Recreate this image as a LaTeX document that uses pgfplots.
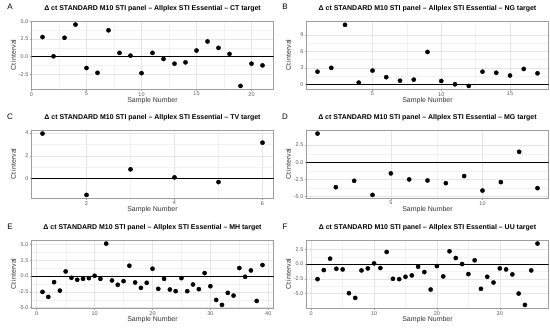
\documentclass[border=0pt]{standalone}
\usepackage{fontspec}
\setmainfont{Liberation Sans}
\usepackage{pgfplots}
\pgfplotsset{compat=1.18}
\definecolor{framegray}{gray}{0.62}
\definecolor{gridmaj}{gray}{0.90}
\definecolor{gridmin}{gray}{0.95}
\definecolor{ticktext}{gray}{0.35}
\pgfplotsset{
  panel/.style={
    scale only axis, width=242bp, height=67.5bp, anchor=south west,
    axis line style={framegray, line width=0.5bp},
    tick style={framegray, line width=0.5bp},
    major tick length=2bp, minor tick length=0pt,
    tick align=outside, xtick pos=lower, ytick pos=left,
    grid=both, minor tick num=1,
    major grid style={gridmaj, line width=0.5bp},
    minor grid style={gridmin, line width=0.3bp},
    ticklabel style={font=\fontsize{5.5}{6}\selectfont, text=ticktext, inner sep=1bp},
    xlabel={Sample Number}, ylabel={Ct interval},
    xlabel style={font=\fontsize{7}{8}\selectfont, text=black!80, at={(axis description cs:0.5,0)}, anchor=center, yshift=-12bp},
    ylabel style={font=\fontsize{7}{8}\selectfont, text=black!80, at={(axis description cs:-0.0745,0.5)}, anchor=center},
    title style={font=\bfseries\fontsize{7}{8}\selectfont, at={(axis description cs:0.5,1)}, anchor=center, yshift=6.5bp},
  },
  pts/.style={only marks, mark=*, mark size=2.1bp, black},
  zl/.style={no marks, black, line width=0.8bp},
}
\begin{document}
\begin{tikzpicture}
\useasboundingbox (0,0) rectangle (550bp,330bp);
\node[font=\fontsize{8}{9}\selectfont] at (10bp,323bp) {A};
\node[font=\fontsize{8}{9}\selectfont] at (285bp,323bp) {B};
\node[font=\fontsize{8}{9}\selectfont] at (10bp,213bp) {C};
\node[font=\fontsize{8}{9}\selectfont] at (285bp,213bp) {D};
\node[font=\fontsize{8}{9}\selectfont] at (10bp,103bp) {E};
\node[font=\fontsize{8}{9}\selectfont] at (285bp,103bp) {F};

% Panel A
\begin{axis}[panel, at={(31.5bp,241bp)},
  title={Δ ct STANDARD M10 STI panel – Allplex STI Essential – CT target},
  xmin=0, xmax=22, ymin=-4.62, ymax=5.01,
  xtick={0,5,10,15,20}, xticklabels={0,5,10,15,20},
  ytick={-2.5,0,2.5,5}, yticklabels={-2.5,0.0,2.5,5.0}]
\addplot[zl] coordinates {(-5,0) (30,0)};
\addplot[pts] coordinates {
(1,2.79) (2,0.05) (3,2.69) (4,4.57) (5,-1.63) (6,-2.31) (7,3.75) (8,0.53)
(9,0.14) (10,-2.36) (11,0.53) (12,-0.34) (13,-1.01) (14,-0.82) (15,0.87)
(16,2.16) (17,1.25) (18,0.38) (19,-4.18) (20,-1.01) (21,-1.25)};
\end{axis}

% Panel B
\begin{axis}[panel, at={(306.5bp,241bp)},
  title={Δ ct STANDARD M10 STI panel – Allplex STI Essential – NG target},
  xmin=0.2, xmax=17.8, ymin=-0.86, ymax=11.46,
  xtick={5,10,15}, xticklabels={5,10,15},
  ytick={0,3,6,9}, yticklabels={0,3,6,9}]
\addplot[zl] coordinates {(-5,0) (30,0)};
\addplot[pts] coordinates {
(1,2.3) (2,3.0) (3,10.85) (4,0.3) (5,2.5) (6,1.3) (7,0.65) (8,0.85)
(9,5.9) (10,0.6) (11,0.0) (12,-0.3) (13,2.3) (14,2.1) (15,1.6) (16,2.8) (17,2.0)};
\end{axis}

% Panel C
\begin{axis}[panel, at={(31.5bp,132bp)},
  title={Δ ct STANDARD M10 STI panel – Allplex STI Essential – TV target},
  xmin=0.75, xmax=6.25, ymin=-1.68, ymax=4.21,
  xtick={2,4,6}, xticklabels={2,4,6},
  ytick={0,2,4}, yticklabels={0,2,4}]
\addplot[zl] coordinates {(-5,0) (30,0)};
\addplot[pts] coordinates {
(1,3.94) (2,-1.41) (3,0.82) (4,0.12) (5,-0.29) (6,3.15)};
\end{axis}

% Panel D
\begin{axis}[panel, at={(306.5bp,132bp)},
  title={Δ ct STANDARD M10 STI panel – Allplex STI Essential – MG target},
  xmin=0.4, xmax=13.6, ymin=-5.2, ymax=4.62,
  xtick={5,10}, xticklabels={5,10},
  ytick={-5,-2.5,0,2.5}, yticklabels={-5.0,-2.5,0.0,2.5}]
\addplot[zl] coordinates {(-5,0) (30,0)};
\addplot[pts] coordinates {
(1,4.17) (2,-3.63) (3,-2.70) (4,-4.75) (5,-1.62) (6,-2.50) (7,-2.65)
(8,-3.04) (9,-2.01) (10,-4.12) (11,-2.89) (12,1.52) (13,-3.77)};
\end{axis}

% Panel E
\begin{axis}[panel, at={(31.5bp,22bp)},
  title={Δ ct STANDARD M10 STI panel – Allplex STI Essential – MH target},
  xmin=-0.9, xmax=40.9, ymin=-5.06, ymax=5.65,
  xtick={0,10,20,30,40}, xticklabels={0,10,20,30,40},
  ytick={-5,-2.5,0,2.5,5}, yticklabels={-5.0,-2.5,0.0,2.5,5.0}]
\addplot[zl] coordinates {(-5,0) (50,0)};
\addplot[pts] coordinates {
(1,-2.5) (2,-3.3) (3,-0.96) (4,-2.3) (5,0.74) (6,-0.27) (7,-0.58) (8,-0.43)
(9,-0.32) (10,0.05) (11,-0.43) (12,5.16) (13,-0.69) (14,-1.38) (15,-0.80)
(16,1.65) (17,-1.01) (18,-1.86) (19,-1.06) (20,1.17) (21,-2.02) (22,-0.43)
(23,-2.13) (24,-2.39) (25,-0.32) (26,-2.39) (27,-1.33) (28,-2.07) (29,0.48)
(30,-1.60) (31,-3.78) (32,-4.57) (33,-2.66) (34,-3.09) (35,1.28) (36,-0.11)
(37,0.90) (38,-3.94) (39,1.76)};
\end{axis}

% Panel F
\begin{axis}[panel, at={(306.5bp,22bp)},
  title={Δ ct STANDARD M10 STI panel – Allplex STI Essential – UU target},
  xmin=-0.75, xmax=37.75, ymin=-7.45, ymax=3.99,
  xtick={0,10,20,30}, xticklabels={0,10,20,30},
  ytick={-5,-2.5,0,2.5}, yticklabels={-5.0,-2.5,0.0,2.5}]
\addplot[zl] coordinates {(-5,0) (50,0)};
\addplot[pts] coordinates {
(1,-2.56) (2,-1.02) (3,0.91) (4,-0.80) (5,-0.91) (6,-4.94) (7,-5.74) (8,-1.08)
(9,-0.74) (10,0.11) (11,-0.68) (12,2.05) (13,-2.5) (14,-2.56) (15,-2.16)
(16,-1.93) (17,-0.45) (18,-1.36) (19,-4.32) (20,-0.34) (21,-2.10) (22,2.16)
(23,1.02) (24,0.0) (25,-1.70) (26,0.63) (27,-4.20) (28,-2.16) (29,-3.13)
(30,-0.74) (31,-0.91) (32,-1.76) (33,-5.0) (34,-6.93) (35,-1.08) (36,3.47)};
\end{axis}
\end{tikzpicture}
\end{document}
